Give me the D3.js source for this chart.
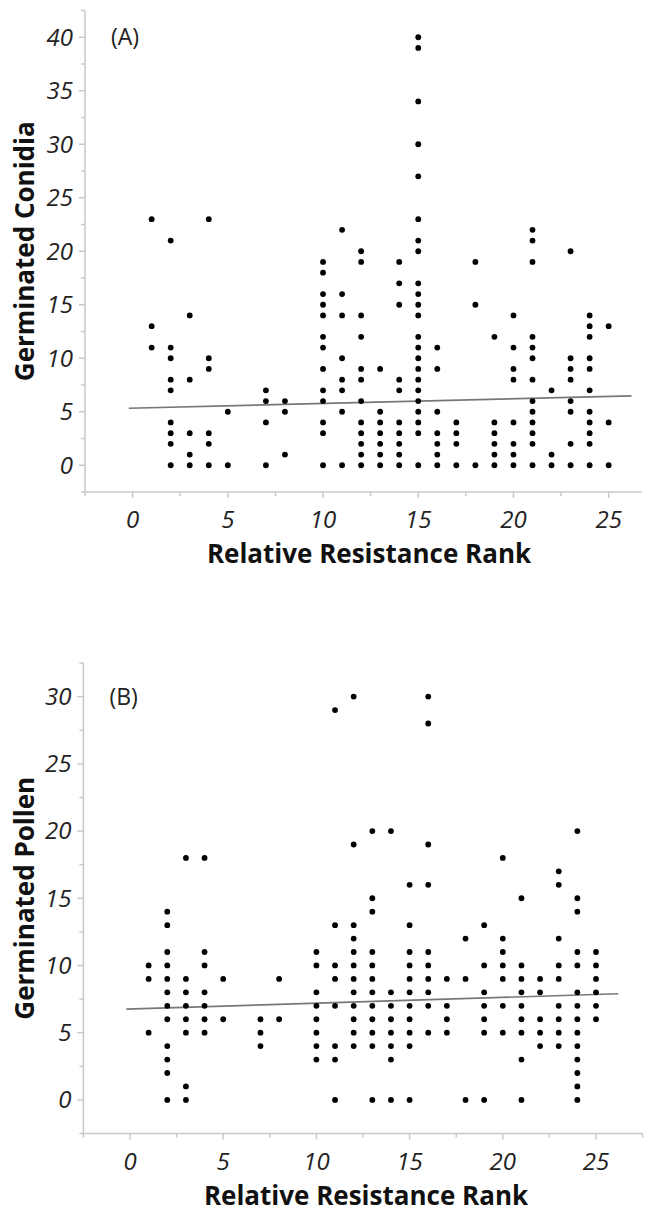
<!DOCTYPE html>
<html><head>
<meta charset="utf-8">
<script src="https://cdn.jsdelivr.net/npm/d3@7"></script>
<style>
body { margin: 0; background: #fff; }
.tick-label { font-family: "Open Sans", "Noto Sans", sans-serif; font-style: italic; font-size: 24px; fill: #222; }
.title { font-family: "Open Sans", "Noto Sans", sans-serif; font-weight: bold; font-size: 26px; fill: #111; }
.panel-tag { font-family: "Open Sans", "Noto Sans", sans-serif; font-size: 23px; fill: #222; }
.axis-line { stroke: #c8c8c8; stroke-width: 1.5px; fill: none; }
.tick { stroke: #c8c8c8; stroke-width: 1.5px; }
.fit { stroke: #777; stroke-width: 1.6px; fill: none; }
</style>
<title>Germination vs resistance rank</title>
</head>
<body>
<script>
// ranks with at least one observation
var ranks = [1, 2, 3, 4, 5, 7, 8, 10, 11, 12, 13, 14, 15, 16, 17, 18, 19, 20, 21, 22, 23, 24, 25];

// (A) germinated conidia, one list per rank
var conidia = [
  [23, 13, 11],
  [21, 11, 10, 8, 7, 4, 3, 2, 0],
  [14, 8, 3, 1, 0],
  [23, 10, 9, 3, 2, 0],
  [5, 0],
  [7, 6, 4, 0],
  [6, 5, 1],
  [19, 18, 16, 15, 14, 12, 11, 9, 7, 6, 4, 3, 0],
  [22, 16, 14, 10, 8, 7, 5, 0],
  [20, 19, 14, 12, 9, 8, 6, 4, 3, 2, 1, 0],
  [9, 5, 4, 3, 2, 1, 0],
  [19, 17, 15, 8, 7, 4, 3, 2, 1, 0],
  [40, 39, 34, 30, 27, 23, 21, 20, 17, 16, 15, 14, 12, 11, 10, 9, 8, 7, 6, 5, 4, 3, 0],
  [11, 9, 5, 3, 2, 1, 0],
  [4, 3, 2, 0],
  [19, 15, 0],
  [12, 4, 3, 2, 1, 0],
  [14, 11, 9, 8, 4, 2, 1, 0],
  [22, 21, 19, 12, 11, 10, 8, 6, 5, 4, 3, 2, 0],
  [7, 1, 0],
  [20, 10, 9, 8, 6, 5, 2, 0],
  [14, 13, 12, 10, 9, 7, 5, 4, 3, 2, 0],
  [13, 4, 0]
];

// (B) germinated pollen, one list per rank
var pollen = [
  [10, 9, 5],
  [14, 13, 11, 10, 9, 8, 7, 6, 4, 3, 2, 0],
  [18, 9, 8, 7, 6, 5, 1, 0],
  [18, 11, 10, 8, 7, 6, 5],
  [9, 6],
  [6, 5, 4],
  [9, 6],
  [11, 10, 8, 7, 6, 5, 4, 3],
  [29, 13, 10, 9, 7, 4, 3, 0],
  [30, 19, 13, 12, 11, 10, 9, 8, 7, 6, 5, 4],
  [20, 15, 14, 11, 10, 9, 8, 7, 6, 5, 4, 0],
  [20, 8, 7, 6, 5, 4, 3, 0],
  [16, 13, 11, 10, 9, 8, 7, 6, 5, 4, 0],
  [30, 28, 19, 16, 11, 10, 9, 8, 7, 5],
  [9, 7, 6, 5],
  [12, 9, 0],
  [13, 10, 8, 7, 6, 5, 0],
  [18, 12, 11, 10, 9, 7, 5],
  [15, 10, 9, 8, 7, 6, 5, 3, 0],
  [9, 8, 6, 5, 4],
  [17, 16, 12, 10, 9, 7, 6, 5, 4],
  [20, 15, 14, 11, 10, 8, 7, 6, 5, 4, 3, 2, 1, 0],
  [11, 10, 9, 8, 7, 6]
];

var xTicks = [0, 5, 10, 15, 20, 25];
var yTicksA = [0, 5, 10, 15, 20, 25, 30, 35, 40];
var yTicksB = [0, 5, 10, 15, 20, 25, 30];

// fitted lines: [intercept, slope]
var fitA = [5.34, 0.0436];
var fitB = [6.76, 0.0433];
var fitRange = [-0.2, 26.2];

var width = 652, height = 1212;
var svg = d3.select("body").append("svg")
    .attr("width", width)
    .attr("height", height);

function toPoints(lists) {
  var pts = [];
  lists.forEach(function(vals, i) {
    vals.forEach(function(v) { pts.push({x: ranks[i], y: v}); });
  });
  return pts;
}

function panel(o) {
  var x = d3.scaleLinear().domain(o.xDomain).range([o.left, o.right]);
  var y = d3.scaleLinear().domain(o.yDomain).range([o.bottom, o.top]);
  var g = svg.append("g");

  // axis lines
  g.append("line").attr("class", "axis-line")
    .attr("x1", o.left).attr("x2", o.left).attr("y1", o.top).attr("y2", o.bottom);
  g.append("line").attr("class", "axis-line")
    .attr("x1", o.left).attr("x2", o.right).attr("y1", o.bottom).attr("y2", o.bottom);

  // ticks, major every 5 and minor in between
  var yMinor = d3.range(o.yDomain[0], o.yDomain[1] + 0.01, 2.5);
  g.selectAll(".ytk").data(yMinor).enter().append("line").attr("class", "tick")
    .attr("x1", o.left).attr("x2", function(d) { return o.left - (d % 5 === 0 ? 6 : 4); })
    .attr("y1", function(d) { return y(d); }).attr("y2", function(d) { return y(d); });
  var xMinor = d3.range(o.xDomain[0], o.xDomain[1] + 0.01, 2.5);
  g.selectAll(".xtk").data(xMinor).enter().append("line").attr("class", "tick")
    .attr("y1", o.bottom).attr("y2", function(d) { return o.bottom + (d % 5 === 0 ? 6 : 4); })
    .attr("x1", function(d) { return x(d); }).attr("x2", function(d) { return x(d); });

  g.selectAll(".ylab").data(o.yTicks).enter().append("text")
    .attr("class", "tick-label")
    .attr("x", o.left - 12).attr("y", function(d) { return y(d); })
    .attr("dy", "0.35em").attr("text-anchor", "end")
    .text(function(d) { return d; });
  g.selectAll(".xlab").data(xTicks).enter().append("text")
    .attr("class", "tick-label")
    .attr("x", function(d) { return x(d); }).attr("y", o.bottom + 28)
    .attr("dy", "0.35em").attr("text-anchor", "middle")
    .text(function(d) { return d; });

  // titles
  g.append("text").attr("class", "title")
    .attr("x", o.titleX).attr("y", o.bottom + 71)
    .attr("text-anchor", "middle").text("Relative Resistance Rank");
  g.append("text").attr("class", "title")
    .attr("transform", "translate(34," + ((o.top + o.bottom) / 2) + ") rotate(-90)")
    .attr("text-anchor", "middle").text(o.yTitle);
  g.append("text").attr("class", "panel-tag")
    .attr("x", o.left + 26).attr("y", y(o.tagAt)).attr("dy", "0.35em")
    .text(o.tag);

  // fit line
  var f = o.fit;
  g.append("line").attr("class", "fit")
    .attr("x1", x(fitRange[0])).attr("y1", y(f[0] + f[1] * fitRange[0]))
    .attr("x2", x(fitRange[1])).attr("y2", y(f[0] + f[1] * fitRange[1]));

  // points
  g.selectAll(".pt").data(toPoints(o.lists)).enter().append("circle")
    .attr("cx", function(d) { return x(d.x); })
    .attr("cy", function(d) { return y(d.y); })
    .attr("r", 2.9).attr("fill", "#000");
}

panel({
  lists: conidia, fit: fitA, yTicks: yTicksA, yTitle: "Germinated Conidia", tag: "(A)", tagAt: 40,
  xDomain: [-2.5, 26.75], yDomain: [-2.5, 42.5],
  left: 85, right: 642, top: 10.5, bottom: 492, titleX: 369
});

panel({
  lists: pollen, fit: fitB, yTicks: yTicksB, yTitle: "Germinated Pollen", tag: "(B)", tagAt: 30,
  xDomain: [-2.5, 27.5], yDomain: [-2.5, 32.5],
  left: 83.4, right: 642.6, top: 663, bottom: 1133.5, titleX: 366
});
</script>
</body></html>
